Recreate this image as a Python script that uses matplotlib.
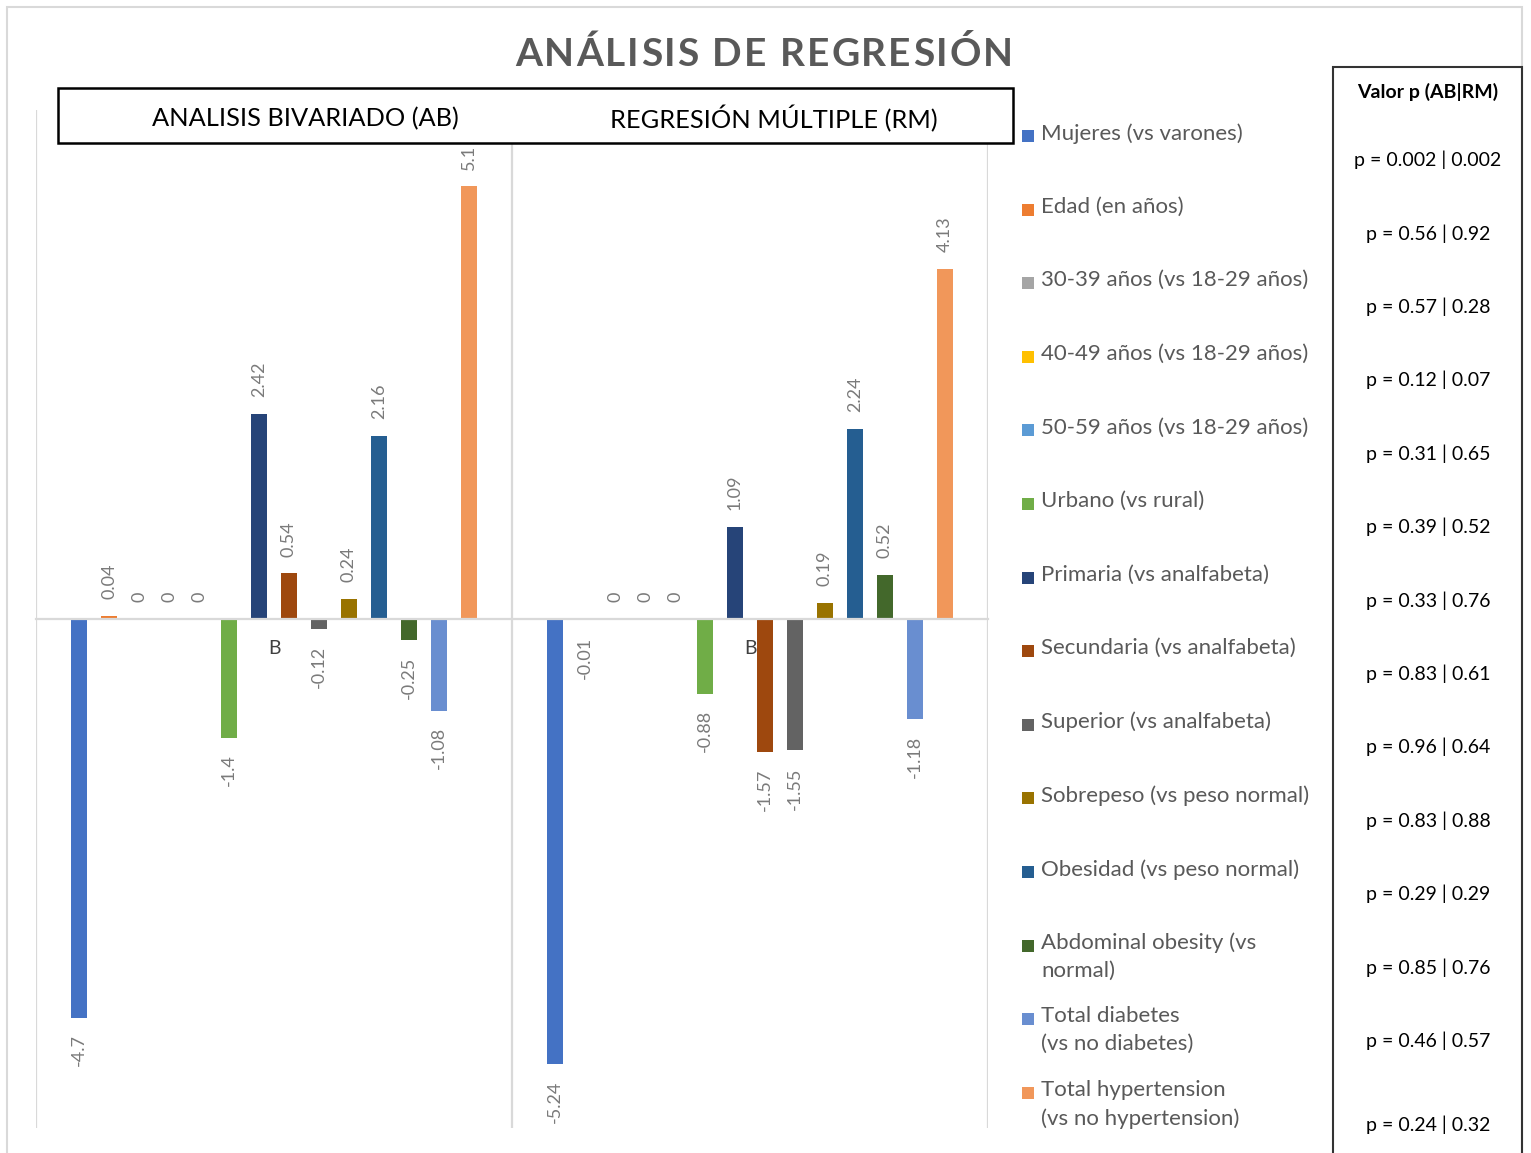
import matplotlib
matplotlib.use("Agg")
import matplotlib.pyplot as plt
from matplotlib.patches import Rectangle

W, H = 1531, 1153

groups = ["B", "B"]
series = ["Mujeres (vs varones)", "Edad (en años)", "30-39 años (vs 18-29 años)",
          "40-49 años (vs 18-29 años)", "50-59 años (vs 18-29 años)", "Urbano (vs rural)",
          "Primaria (vs analfabeta)", "Secundaria (vs analfabeta)", "Superior (vs analfabeta)",
          "Sobrepeso (vs peso normal)", "Obesidad (vs peso normal)",
          "Abdominal obesity (vs\nnormal)", "Total diabetes\n(vs no diabetes)",
          "Total hypertension\n(vs no hypertension)"]
ab = [-4.7, 0.04, 0, 0, 0, -1.4, 2.42, 0.54, -0.12, 0.24, 2.16, -0.25, -1.08, 5.1]
rm = [-5.24, -0.01, 0, 0, 0, -0.88, 1.09, -1.57, -1.55, 0.19, 2.24, 0.52, -1.18, 4.13]
p_ab = ["0.002", "0.56", "0.57", "0.12", "0.31", "0.39", "0.33", "0.83", "0.96", "0.83",
        "0.29", "0.85", "0.46", "0.24"]
p_rm = ["0.002", "0.92", "0.28", "0.07", "0.65", "0.52", "0.76", "0.61", "0.64", "0.88",
        "0.29", "0.76", "0.57", "0.32"]
colors = ["#4472C4", "#ED7D31", "#A5A5A5", "#FFC000", "#5B9BD5", "#70AD47", "#264478",
          "#9E480E", "#636363", "#997300", "#255E91", "#43682B", "#698ED0", "#F1975A"]

plt.rcParams['font.family'] = ['Lato', 'DejaVu Sans']

fig = plt.figure(figsize=(W / 100, H / 100), dpi=100)
ax = fig.add_axes([36 / W, 1 - 1128 / H, 952 / W, 1018 / H])

step = 0.063
bw = 0.034
for i, name in enumerate(series):
    vals = [ab[i], rm[i]]
    xs = [g + (i - 6.5) * step for g in range(len(groups))]
    bars = ax.bar(xs, vals, width=bw, color=colors[i], zorder=2)
    for b, v in zip(bars, vals):
        neg = v < 0
        ax.annotate(f"{v:g}", (b.get_x() + b.get_width() / 2, v),
                    xytext=(0, -12 if neg else 12), textcoords="offset points",
                    rotation=90, ha="center", va="top" if neg else "bottom",
                    fontsize=13, color="#7a7a7a")

ax.set_xlim(-0.5, 1.5)
ax.set_ylim(-6, 6)
for s in ["top", "left", "right"]:
    ax.spines[s].set_visible(False)
ax.spines["bottom"].set_position(("data", 0))
ax.spines["bottom"].set_color("#d9d9d9")
ax.spines["bottom"].set_linewidth(1.6)
ax.set_yticks([])
ax.set_xticks(range(len(groups)), groups)
ax.tick_params(axis="x", length=0, pad=15, labelsize=14, labelcolor="#404040")
ax.set_xticks([-0.5, 0.5, 1.5], minor=True)
ax.tick_params(axis="x", which="minor", length=0)
ax.grid(which="minor", axis="x", color="#d9d9d9", linewidth=1.6)

# outer frame
fig.add_artist(Rectangle((7 / W, -0.1), 1515 / W, 1.1 - 7 / H, transform=fig.transFigure,
                         fill=False, ec="#d9d9d9", lw=1.5, zorder=0))

# title with letter spacing
title = "ANÁLISIS DE REGRESIÓN"
r = fig.canvas.get_renderer()
tmp = [fig.text(0, 0, c, fontsize=28, fontweight="bold") for c in title]
widths = [t.get_window_extent(r).width for t in tmp]
for t in tmp:
    t.remove()
gap = 2.0
total = sum(widths) + gap * (len(title) - 1)
x = 764 - total / 2
for c, w in zip(title, widths):
    fig.text(x / W, 1 - 54 / H, c, fontsize=28, fontweight="bold", color="#595959",
             va="center", ha="left")
    x += w + gap

# header box
fig.add_artist(Rectangle((58 / W, 1 - 143 / H), 955 / W, 55 / H, transform=fig.transFigure,
                         fc="white", ec="black", lw=1.8, zorder=3))
fig.text(305 / W, 1 - 119 / H, "ANALISIS BIVARIADO (AB)", fontsize=18.3, ha="center",
         va="center", zorder=4)
fig.text(774 / W, 1 - 119 / H, "REGRESIÓN MÚLTIPLE (RM)", fontsize=18.3, ha="center",
         va="center", zorder=4)

# legend
for i, name in enumerate(series):
    y = 136 + i * 73.6
    fig.add_artist(Rectangle((1022 / W, 1 - (y + 6) / H), 12 / W, 12 / H,
                             transform=fig.transFigure, fc=colors[i], ec="none"))
    fig.text(1041 / W, 1 - (y - 13) / H, name, fontsize=16, color="#595959",
             ha="left", va="top", linespacing=1.5)

# p-value table
fig.add_artist(Rectangle((1333 / W, -0.05), 189 / W, 0.05 + 1 - 67 / H,
                         transform=fig.transFigure, fill=False, ec="#333333", lw=1.5))
fig.text(1428 / W, 1 - 92 / H, "Valor p (AB|RM)", fontsize=14, fontweight="bold",
         ha="center", va="center")
for i in range(len(series)):
    y = 160 + i * 73.4 + (11 if i == len(series) - 1 else 0)
    fig.text(1428 / W, 1 - y / H, f"p = {p_ab[i]} | {p_rm[i]}", fontsize=14,
             ha="center", va="center")

fig.savefig("out.png", dpi=100)
